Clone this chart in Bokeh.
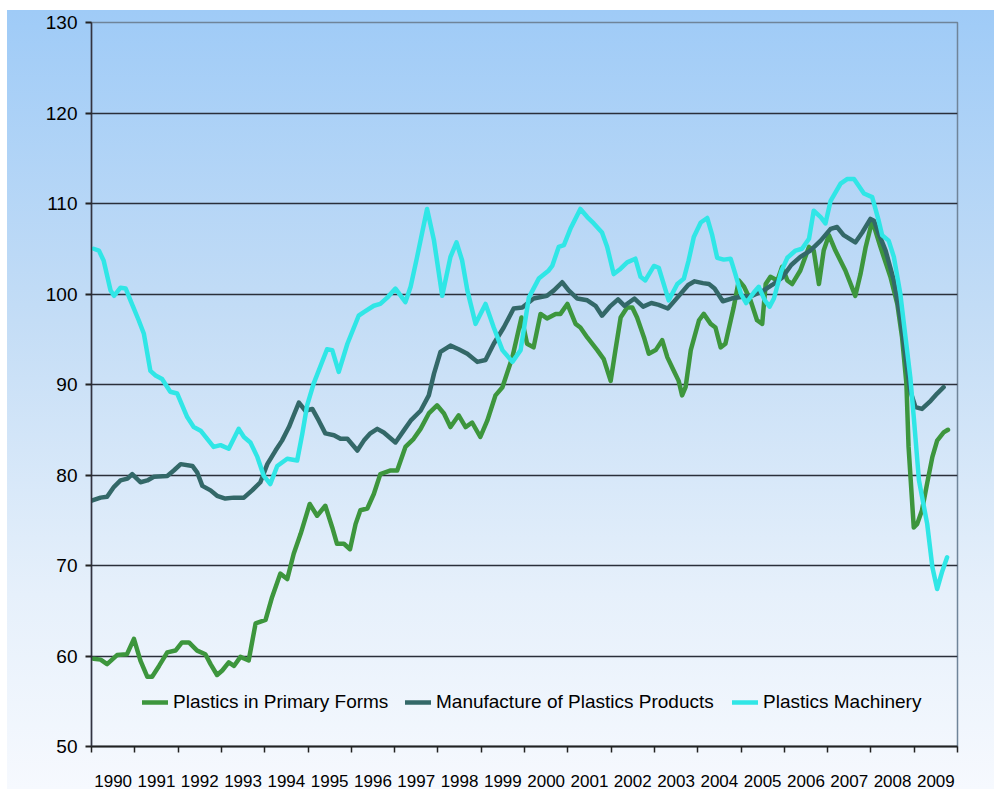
from bokeh.plotting import figure
from bokeh.models import (Range1d, FixedTicker, CustomJSTickFormatter, Legend, LegendItem)
from bokeh.embed import file_html
from bokeh.resources import INLINE

# ---------------- data ----------------
year_labels = [str(y) for y in range(1990, 2010)]
y_ticks = [50, 60, 70, 80, 90, 100, 110, 120, 130]

primary_x = [1990.05, 1990.21, 1990.36, 1990.59, 1990.82, 1990.98, 1991.13, 1991.29, 1991.40, 1991.56,
             1991.75, 1991.94, 1992.09, 1992.25, 1992.44, 1992.63, 1992.75, 1992.90, 1993.02, 1993.17,
             1993.29, 1993.44, 1993.63, 1993.79, 1994.02, 1994.17, 1994.36, 1994.52, 1994.67, 1994.83,
             1995.04, 1995.21, 1995.40, 1995.56, 1995.67, 1995.83, 1995.97, 1996.10, 1996.21, 1996.37,
             1996.52, 1996.67, 1996.91, 1997.06, 1997.25, 1997.44, 1997.60, 1997.79, 1997.98, 1998.14,
             1998.29, 1998.48, 1998.64, 1998.79, 1998.98, 1999.14, 1999.33, 1999.49, 1999.72, 1999.93,
             2000.06, 2000.21, 2000.37, 2000.52, 2000.72, 2000.83, 2000.99, 2001.18, 2001.29, 2001.45,
             2001.68, 2001.83, 2001.99, 2002.10, 2002.22, 2002.37, 2002.49, 2002.60, 2002.76, 2002.87,
             2003.03, 2003.18, 2003.30, 2003.45, 2003.56, 2003.64, 2003.72, 2003.84, 2004.03, 2004.14,
             2004.30, 2004.41, 2004.53, 2004.64, 2004.83, 2004.95, 2005.07, 2005.22, 2005.37, 2005.49,
             2005.57, 2005.68, 2005.84, 2005.95, 2006.07, 2006.18, 2006.37, 2006.57, 2006.68, 2006.80,
             2006.91, 2007.03, 2007.18, 2007.41, 2007.64, 2007.76, 2007.88, 2008.03, 2008.22, 2008.45,
             2008.61, 2008.72, 2008.82, 2008.87, 2008.99, 2009.07, 2009.18, 2009.30, 2009.42, 2009.53,
             2009.68, 2009.78]
primary_v = [59.7, 59.6, 59.1, 60.1, 60.2, 61.9, 59.5, 57.7, 57.7, 58.9,
             60.4, 60.6, 61.5, 61.5, 60.6, 60.2, 59.1, 57.9, 58.4, 59.3,
             58.9, 59.9, 59.5, 63.6, 64.0, 66.5, 69.1, 68.5, 71.3, 73.5,
             76.8, 75.5, 76.6, 74.2, 72.4, 72.4, 71.8, 74.6, 76.1, 76.3,
             77.9, 80.1, 80.5, 80.5, 83.1, 84.0, 85.1, 86.8, 87.7, 86.8,
             85.3, 86.6, 85.3, 85.8, 84.2, 86.0, 88.8, 89.7, 93.0, 97.4,
             94.5, 94.1, 97.8, 97.3, 97.8, 97.8, 98.9, 96.7, 96.3, 95.2,
             93.8, 92.8, 90.4, 93.8, 97.4, 98.5, 98.5, 97.4, 95.2, 93.4,
             93.8, 94.9, 93.0, 91.5, 90.4, 88.8, 89.7, 93.8, 97.1, 97.8,
             96.7, 96.3, 94.1, 94.5, 98.5, 101.5, 100.8, 99.3, 97.1, 96.7,
             101.1, 101.9, 101.5, 103.0, 101.5, 101.1, 102.6, 105.2, 104.8, 101.1,
             104.8, 106.5, 104.8, 102.6, 99.8, 102.2, 105.2, 108.1, 105.2, 101.9,
             98.9, 95.2, 90.1, 83.1, 74.2, 74.6, 76.1, 79.1, 82.0, 83.8,
             84.7, 85.0]

products_x = [1990.02, 1990.21, 1990.36, 1990.52, 1990.67, 1990.83, 1990.94, 1991.13, 1991.29, 1991.44,
              1991.75, 1991.90, 1992.06, 1992.33, 1992.44, 1992.56, 1992.75, 1992.90, 1993.09, 1993.29,
              1993.52, 1993.71, 1993.90, 1994.06, 1994.25, 1994.40, 1994.56, 1994.67, 1994.79, 1994.94,
              1995.10, 1995.25, 1995.40, 1995.60, 1995.75, 1995.91, 1996.14, 1996.29, 1996.44, 1996.60,
              1996.75, 1997.02, 1997.21, 1997.37, 1997.60, 1997.79, 1997.91, 1998.06, 1998.29, 1998.48,
              1998.68, 1998.91, 1999.10, 1999.29, 1999.52, 1999.75, 1999.95, 2000.21, 2000.52, 2000.68,
              2000.87, 2001.02, 2001.22, 2001.45, 2001.64, 2001.79, 2001.97, 2002.16, 2002.31, 2002.54,
              2002.74, 2002.93, 2003.10, 2003.31, 2003.53, 2003.78, 2003.93, 2004.12, 2004.26, 2004.39,
              2004.58, 2004.78, 2005.03, 2005.26, 2005.49, 2005.72, 2005.95, 2006.16, 2006.37, 2006.60,
              2006.84, 2007.07, 2007.22, 2007.37, 2007.64, 2007.80, 2007.99, 2008.07, 2008.18, 2008.34,
              2008.53, 2008.68, 2008.80, 2008.91, 2009.03, 2009.18, 2009.38, 2009.53, 2009.68]
products_v = [77.2, 77.5, 77.6, 78.7, 79.4, 79.6, 80.1, 79.2, 79.4, 79.8,
              79.9, 80.5, 81.2, 81.0, 80.3, 78.8, 78.3, 77.7, 77.4, 77.5,
              77.5, 78.3, 79.2, 81.2, 82.7, 83.8, 85.3, 86.6, 88.0, 87.1,
              87.3, 86.0, 84.6, 84.4, 84.0, 84.0, 82.7, 83.8, 84.6, 85.1,
              84.7, 83.6, 84.9, 86.0, 87.1, 88.8, 91.2, 93.6, 94.3, 93.9,
              93.4, 92.5, 92.7, 94.5, 96.3, 98.4, 98.5, 99.5, 99.8, 100.4,
              101.3, 100.4, 99.5, 99.3, 98.7, 97.6, 98.6, 99.4, 98.7, 99.5,
              98.6, 99.0, 98.8, 98.4, 99.6, 101.0, 101.4, 101.2, 101.1, 100.6,
              99.2, 99.5, 99.7, 99.8, 100.3, 101.0, 101.8, 103.2, 104.1, 104.8,
              105.9, 107.2, 107.4, 106.5, 105.7, 106.8, 108.3, 108.1, 106.7, 104.8,
              101.5, 97.4, 93.0, 89.3, 87.5, 87.3, 88.2, 89.0, 89.7]

machinery_x = [1990.05, 1990.17, 1990.28, 1990.44, 1990.52, 1990.67, 1990.79, 1990.90, 1991.09, 1991.21,
               1991.36, 1991.48, 1991.63, 1991.82, 1991.98, 1992.21, 1992.36, 1992.52, 1992.82, 1992.98,
               1993.17, 1993.40, 1993.52, 1993.67, 1993.83, 1993.98, 1994.13, 1994.29, 1994.52, 1994.75,
               1994.87, 1994.98, 1995.13, 1995.44, 1995.56, 1995.71, 1995.91, 1996.17, 1996.29, 1996.52,
               1996.67, 1996.83, 1997.02, 1997.25, 1997.37, 1997.52, 1997.75, 1997.91, 1998.10, 1998.29,
               1998.43, 1998.56, 1998.68, 1998.87, 1999.10, 1999.29, 1999.49, 1999.72, 1999.91, 2000.10,
               2000.33, 2000.56, 2000.64, 2000.79, 2000.91, 2001.06, 2001.29, 2001.45, 2001.60, 2001.79,
               2001.91, 2002.06, 2002.22, 2002.37, 2002.56, 2002.68, 2002.79, 2002.99, 2003.10, 2003.26,
               2003.33, 2003.53, 2003.68, 2003.79, 2003.91, 2004.07, 2004.22, 2004.33, 2004.45, 2004.60,
               2004.76, 2004.87, 2005.00, 2005.12, 2005.30, 2005.41, 2005.55, 2005.66, 2005.76, 2005.93,
               2006.07, 2006.26, 2006.41, 2006.57, 2006.68, 2006.84, 2006.95, 2007.07, 2007.30, 2007.45,
               2007.61, 2007.84, 2008.03, 2008.18, 2008.26, 2008.41, 2008.53, 2008.68, 2008.80, 2008.91,
               2008.99, 2009.11, 2009.30, 2009.42, 2009.53, 2009.65, 2009.76]
machinery_v = [105.0, 104.8, 103.7, 100.4, 99.8, 100.7, 100.6, 99.3, 97.1, 95.6,
               91.5, 91.0, 90.6, 89.2, 89.0, 86.4, 85.3, 84.9, 83.1, 83.3,
               82.9, 85.1, 84.2, 83.6, 82.0, 79.9, 79.0, 81.0, 81.8, 81.6,
               84.6, 87.7, 90.1, 93.9, 93.8, 91.4, 94.5, 97.6, 98.0, 98.7,
               98.9, 99.6, 100.6, 99.1, 100.8, 104.1, 109.4, 105.9, 99.8, 104.1,
               105.7, 103.7, 100.4, 96.7, 98.9, 96.3, 93.8, 92.5, 93.8, 99.6,
               101.7, 102.6, 103.1, 105.2, 105.4, 107.2, 109.4, 108.5, 107.8, 106.8,
               105.2, 102.2, 102.8, 103.5, 103.9, 101.9, 101.5, 103.1, 102.9, 100.4,
               99.3, 101.1, 101.7, 103.7, 106.3, 107.9, 108.4, 106.6, 104.0, 103.8,
               103.9, 102.2, 100.0, 99.0, 100.2, 100.8, 99.3, 98.6, 99.5, 102.5,
               104.0, 104.8, 105.0, 106.1, 109.2, 108.5, 107.8, 110.3, 112.2, 112.7,
               112.7, 111.1, 110.7, 108.1, 106.5, 105.9, 104.1, 100.0, 95.2, 90.8,
               86.4, 79.4, 74.6, 69.8, 67.4, 69.4, 70.9]

series_names = ["Plastics in Primary Forms", "Manufacture of Plastics Products", "Plastics Machinery"]
series_colors = ["#3d963d", "#336868", "#30e6e6"]

# ---------------- figure ----------------
p = figure(width=994, height=789, output_backend="svg", toolbar_location=None,
           x_range=Range1d(1990, 2010), y_range=Range1d(50, 130),
           min_border_left=91, min_border_right=37, min_border_top=22, min_border_bottom=43)

p.background_fill_alpha = 0
p.border_fill_alpha = 0
p.styles = {
    "background-color": "white",
    "background-image": "linear-gradient(to bottom, #9fcbf7 0%, #c4ddf6 40%, #e6f0fb 75%, #f6f9fe 100%)",
    "background-position": "7px 10px",
    "background-size": "987px 779px",
    "background-repeat": "no-repeat",
}
p.outline_line_color = "#6f8499"
p.outline_line_width = 1.5

font = "Liberation Sans"

# y axis
yax = p.yaxis[0]
yax.ticker = FixedTicker(ticks=y_ticks)
yax.axis_line_color = "#333340"
yax.axis_line_width = 1.5
yax.major_tick_in = 0
yax.major_tick_out = 6
yax.major_tick_line_color = "#222"
yax.major_tick_line_width = 2
yax.minor_tick_line_color = None
yax.major_label_text_font = font
yax.major_label_text_font_size = "19px"
yax.major_label_text_color = "#000000"
yax.major_label_standoff = 8

# x axis
xax = p.xaxis[0]
xax.ticker = FixedTicker(ticks=[y + 0.5 for y in range(1990, 2010)],
                         minor_ticks=list(range(1990, 2011)))
xax.formatter = CustomJSTickFormatter(args=dict(labels=year_labels, start=1990),
                                      code="return labels[Math.floor(tick) - start];")
xax.axis_line_color = "#222"
xax.axis_line_width = 2
xax.major_tick_in = 0
xax.major_tick_out = 0
xax.major_tick_line_color = None
xax.minor_tick_in = 0
xax.minor_tick_out = 6
xax.minor_tick_line_color = "#222"
xax.minor_tick_line_width = 1.5
xax.major_label_text_font = font
xax.major_label_text_font_size = "17px"
xax.major_label_text_color = "#000000"
xax.major_label_standoff = 22

p.xgrid.grid_line_color = None
p.ygrid.ticker = FixedTicker(ticks=y_ticks)
p.ygrid.grid_line_color = "#2a2f3a"
p.ygrid.grid_line_width = 1.5

xs_list = [primary_x, products_x, machinery_x]
vs_list = [primary_v, products_v, machinery_v]
renderers = []
for xs, vs, c in zip(xs_list, vs_list, series_colors):
    r = p.line(xs, vs, line_color=c, line_width=4.5, line_join="round", line_cap="round")
    renderers.append(r)

legend_x = [51, 314, 641]
for name, r, lx in zip(series_names, renderers, legend_x):
    lg = Legend(items=[LegendItem(label=name, renderers=[r])], location=(lx, 33),
                orientation="horizontal", padding=0, margin=0, border_line_alpha=0,
                background_fill_alpha=0, glyph_width=26, glyph_height=20, label_height=20,
                label_standoff=5, label_text_font=font, label_text_font_size="19px",
                label_text_color="#000000")
    p.add_layout(lg, "center")

open("out.html", "w").write(file_html(p, INLINE))
